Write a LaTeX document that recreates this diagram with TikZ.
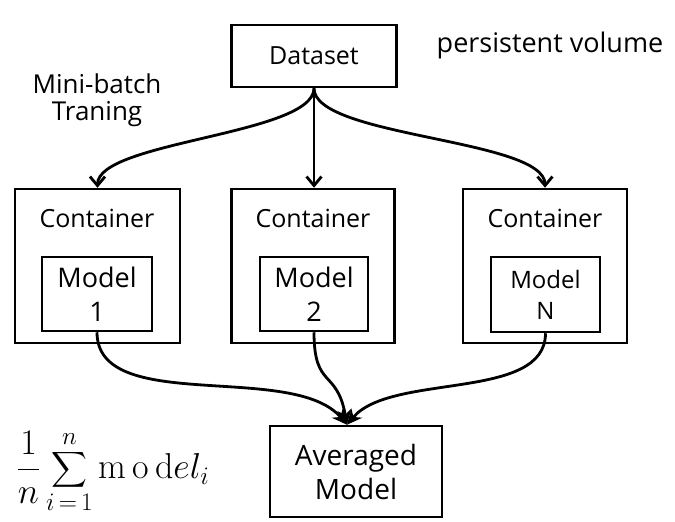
\RequirePackage{fix-cm}
\documentclass[tikz,border=0pt]{standalone}
\usepackage{amsmath}
\usepackage{fontspec}
\newfontfamily\labelfont{Open Sans}
\usetikzlibrary{arrows.meta}

\begin{document}
\begin{tikzpicture}[x=1pt,y=-1pt,
  box/.style={draw, line width=2.5pt, align=center, inner sep=0pt},
  lbl/.style={font=\labelfont\fontsize{25}{33}\selectfont, align=center},
  feed/.style={line width=2.8pt, -{Straight Barb[length=9pt,width=15pt]}},
  merge/.style={line width=2.8pt, -{Stealth[length=15pt,width=14pt]}}]
\useasboundingbox (0,0) rectangle (675,522);

% top
\node[box, lbl, minimum width=165pt, minimum height=62pt] (data) at (314,56) {Dataset};
\node[font=\labelfont\fontsize{27}{30}\selectfont] (pv) at (550,45) {persistent volume};
\node[font=\labelfont\fontsize{26}{27}\selectfont, align=center] (mb) at (97,100) {Mini-batch\\Traning};

% containers
\node[box, minimum width=165pt, minimum height=154pt] (c1) at (97.5,266) {};
\node[box, minimum width=163pt, minimum height=154pt] (c2) at (313,266) {};
\node[box, minimum width=164pt, minimum height=154pt] (c3) at (545,266) {};
\node[lbl] (t1) at (97,218) {Container};
\node[lbl] (t2) at (313,218) {Container};
\node[lbl] (t3) at (545,218) {Container};

% models
\node[box, font=\labelfont\fontsize{27}{34}\selectfont, minimum width=110pt, minimum height=74pt] (m1) at (97,294) {Model\\1};
\node[box, font=\labelfont\fontsize{27}{34}\selectfont, minimum width=108pt, minimum height=74pt] (m2) at (314,294) {Model\\2};
\node[box, font=\labelfont\fontsize{24}{31}\selectfont, minimum width=109pt, minimum height=75pt] (m3) at (545.5,294.5) {Model\\N};

% bottom
\node[box, font=\labelfont\fontsize{28}{34}\selectfont, minimum width=172pt, minimum height=91pt] (avg) at (356,471.5) {Averaged\\Model};
\node[font=\fontsize{36}{43}\selectfont] (frm) at (113,472) {$\displaystyle\frac{1}{n}\sum_{i\,=\,1}^{n}\mathrm{m\,o\,d}el_i$};

\draw[feed] (data.south) to[out=-90,in=90,looseness=0.5] (c1.north);
\draw[feed] (data.south) -- (data.south |- c2.north);
\draw[feed] (data.south) to[out=-90,in=90,looseness=0.5] (c3.north);

\coordinate (tip) at ([xshift=-9pt]avg.north);
\draw[merge] (m1.south) to[out=-90,in=130,looseness=0.8] (tip);
\draw[merge] (m2.south) to[out=-90,in=100,looseness=1.5] (tip);
\draw[merge] (m3.south) to[out=-90,in=50,looseness=0.8] (tip);
\end{tikzpicture}
\end{document}
